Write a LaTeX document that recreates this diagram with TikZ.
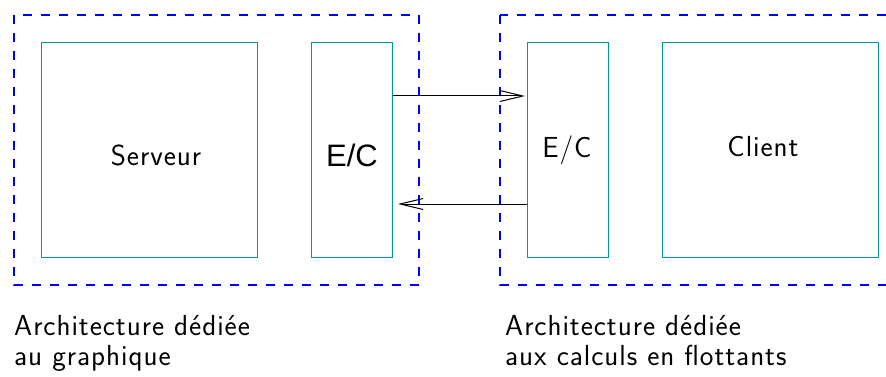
\documentclass[tikz,border=0pt]{standalone}
\usepackage{fontspec}
\newfontfamily\helv{Liberation Sans}
\newfontfamily\lmsw{Latin Modern Sans}[LetterSpace=3.3]
\usetikzlibrary{arrows.meta}
\definecolor{tealbox}{RGB}{0,153,153}
\begin{document}
\begin{tikzpicture}[x=1pt,y=-1pt,
  frame/.style={draw=blue,line width=1.1pt,dash pattern=on 9pt off 9pt},
  box/.style={draw=tealbox,line width=1.2pt,anchor=north west,inner sep=0pt},
  lbl/.style={font=\lmsw\fontsize{29}{28}\selectfont,inner sep=0pt},
  arr/.style={line width=1pt,-{Straight Barb[length=23pt,width=11pt,line width=1pt]}}]
\useasboundingbox (0,0) rectangle (886,377);
\clip (0,0) rectangle (886,377);
\draw[frame] (14,15) rectangle (419,285);
\draw[frame] (500,15) rectangle (900,285);
\node[box,minimum width=216pt,minimum height=215pt] (srv) at (41,42) {};
\node[box,minimum width=81pt,minimum height=215pt] (lec) at (311,42) {};
\node[box,minimum width=81pt,minimum height=215pt] (rec) at (527,42) {};
\node[box,minimum width=216pt,minimum height=215pt] (cli) at (662,42) {};
\node[lbl] (tsrv) at (156,155) {Serveur};
\node[inner sep=0pt,font=\helv\fontsize{31}{33}\selectfont] (tlec) at (352,155) {E/C};
\node[lbl] (trec) at (567,150) {E/C};
\node[lbl] (tcli) at (763,147) {Client};
\coordinate (a1s) at (392,96);
\coordinate (a1e) at (525,96);
\coordinate (a2s) at (527,204);
\coordinate (a2e) at (398,204);
\draw[arr] (lec.east |- a1s) -- (a1e);
\draw[arr] (rec.west |- a2s) -- (a2e);
\node[lbl,align=left,anchor=base west] (l1) at (14,365) {Architecture dédiée\\[2pt]au graphique};
\node[lbl,align=left,anchor=base west] (l2) at (505,365) {Architecture dédiée\\[2pt]aux calculs en flottants};
\end{tikzpicture}
\end{document}
